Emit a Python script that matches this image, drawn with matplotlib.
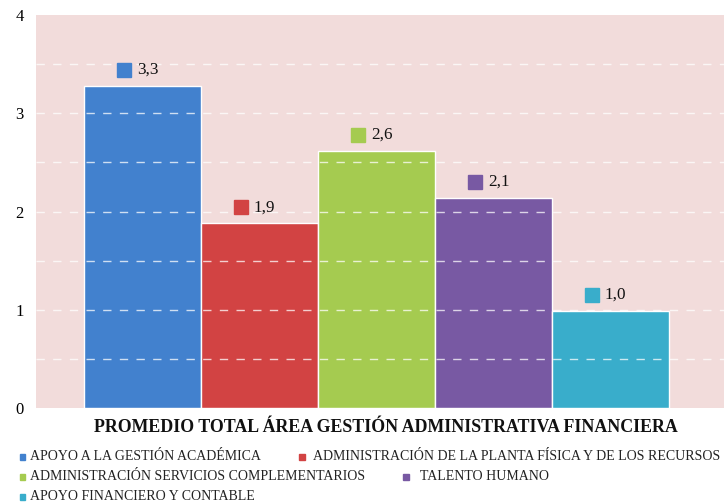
import matplotlib
matplotlib.use("Agg")
import matplotlib.pyplot as plt
from matplotlib.patches import Rectangle
from matplotlib.transforms import offset_copy

categories = [
    "APOYO A LA GESTIÓN ACADÉMICA",
    "ADMINISTRACIÓN DE LA PLANTA FÍSICA Y DE LOS RECURSOS",
    "ADMINISTRACIÓN SERVICIOS COMPLEMENTARIOS",
    "TALENTO HUMANO",
    "APOYO FINANCIERO Y CONTABLE",
]
values = [3.28, 1.88, 2.62, 2.14, 0.99]
colors = ["#4281CE", "#D24343", "#A5CB50", "#7859A3", "#39ADCB"]
y_ticks = [0, 1, 2, 3, 4]
title = "PROMEDIO TOTAL ÁREA GESTIÓN ADMINISTRATIVA FINANCIERA"

plt.rcParams["font.family"] = ["Liberation Serif", "DejaVu Serif"]
plt.rcParams["lines.scale_dashes"] = False

W, H = 724, 504
fig = plt.figure(figsize=(W / 100, H / 100), dpi=100)
ax = fig.add_axes([36 / W, 1 - 408 / H, 1 - 36 / W, (408 - 15) / H])
ax.set_facecolor("#F2DCDB")

x = list(range(len(values)))
ax.bar(x, values, width=1.0, color=colors, edgecolor="white", linewidth=1.0, zorder=2)

# dashed white grid at every half unit, drawn over the bars
for g in [0.5, 1, 1.5, 2, 2.5, 3, 3.5]:
    ax.axhline(g, color="white", lw=1.0, dashes=(6, 6), alpha=0.75, zorder=3)

ax.set_xlim(-0.91, 4.97)
ax.set_ylim(0, 4)
ax.set_yticks(y_ticks)
ax.set_yticklabels([str(t) for t in y_ticks], fontsize=12)
ax.tick_params(axis="y", length=0, pad=9)
ax.set_xticks([])
for s in ax.spines.values():
    s.set_visible(False)

# value labels: a coloured square followed by the rounded value
for xi, v, c in zip(x, values, colors):
    tr_sq = offset_copy(ax.transData, fig=fig, x=-13.3, y=11.5, units="points")
    ax.plot([xi], [v], marker="s", markersize=10, color=c, transform=tr_sq,
            linestyle="none", zorder=4, clip_on=False)
    ax.annotate(f"{v:.1f}".replace(".", ","), (xi, v), xytext=(-4, 11.5),
                textcoords="offset points", ha="left", va="center",
                fontsize=12.3, color="#111111", zorder=4)

fig.text(386 / W, 1 - 428 / H, title, ha="center", va="center",
         fontsize=12.9, fontweight="bold", color="#111111")

# legend laid out in rows: (marker centre x, text x, row centre y)
legend_pos = [(22.5, 30, 457), (302, 313, 457), (22.5, 30, 477),
              (406, 420, 477), (22.5, 30, 497)]
for (mx, tx, ly), name, c in zip(legend_pos, categories, colors):
    fig.patches.append(Rectangle(((mx - 2.8) / W, 1 - (ly + 2.8) / H), 5.6 / W, 5.6 / H,
                                 transform=fig.transFigure, color=c))
    fig.text(tx / W, 1 - ly / H, name, ha="left", va="center",
             fontsize=10, color="#222222")

fig.savefig("out.png", dpi=100)
